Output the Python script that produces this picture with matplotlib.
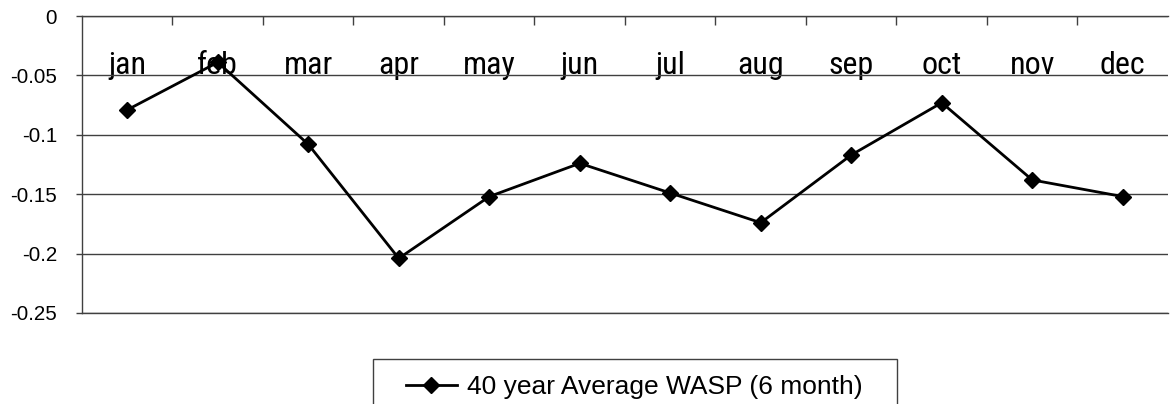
import matplotlib
matplotlib.use("Agg")
import matplotlib.pyplot as plt
from matplotlib.patches import Rectangle
from matplotlib.ticker import FixedLocator

months = ["jan", "feb", "mar", "apr", "may", "jun",
          "jul", "aug", "sep", "oct", "nov", "dec"]
wasp = [-0.079, -0.039, -0.108, -0.204, -0.152, -0.124,
        -0.149, -0.174, -0.117, -0.073, -0.138, -0.152]
y_ticks = [0, -0.05, -0.1, -0.15, -0.2, -0.25]
y_labels = ["0", "-0.05", "-0.1", "-0.15", "-0.2", "-0.25"]
series_name = "40 year Average WASP (6 month)"

plt.rcParams['font.family'] = ['Liberation Sans', 'DejaVu Sans']
axis_col = "#404040"

fig = plt.figure(figsize=(11.73, 4.04), dpi=100)
ax = fig.add_axes([82 / 1173, 1 - 313 / 404, (1168 - 82) / 1173, (313 - 16) / 404])

x = list(range(len(months)))
line, = ax.plot(x, wasp, color="black", lw=2.0, marker="D", ms=8,
                label=series_name, zorder=3)

ax.set_xlim(-0.5, len(months) - 0.5)
ax.set_ylim(-0.25, 0)

# y axis
ax.set_yticks(y_ticks, y_labels)
ax.tick_params(axis="y", direction="out", length=4, width=1, color=axis_col,
               pad=14, labelsize=14.8)
ax.grid(axis="y", color=axis_col, lw=1)

# x axis sits on top (value 0), labels drawn below it
ax.xaxis.tick_top()
ax.set_xticks(x, months)
ax.xaxis.set_minor_locator(FixedLocator([i + 0.5 for i in range(len(months) - 1)]))
ax.tick_params(axis="x", which="major", length=0, pad=-46)
ax.tick_params(axis="x", which="minor", direction="in", length=6.5, width=1,
               color=axis_col, top=True, bottom=False)
for lbl in ax.get_xticklabels():
    lbl.set_fontfamily(["Roboto Condensed", "Liberation Sans", "DejaVu Sans"])
    lbl.set_fontsize(23)

ax.spines["right"].set_visible(False)
for side in ["top", "left", "bottom"]:
    ax.spines[side].set_color(axis_col)
    ax.spines[side].set_linewidth(1)

# legend box at the bottom
fig.patches.append(Rectangle((373 / 1173, -0.05), (897 - 373) / 1173, 0.05 + (1 - 359 / 404),
                             transform=fig.transFigure, fill=False,
                             edgecolor=axis_col, lw=1))
fig.legend(handles=[line], loc="center left", bbox_to_anchor=(406 / 1173, 1 - 387 / 404),
           frameon=False, fontsize=19, borderpad=0, borderaxespad=0,
           handlelength=1.93, handletextpad=0.38)

fig.savefig("out.png", dpi=100)
